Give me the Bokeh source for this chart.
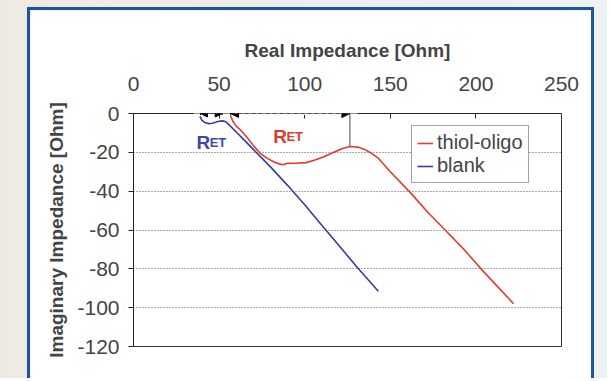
from bokeh.plotting import figure
from bokeh.models import Range1d, LinearAxis, FixedTicker, Arrow, NormalHead, Label
from bokeh.layouts import column
from bokeh.embed import file_html
from bokeh.resources import INLINE

# ---- data ----
x_ticks = [0, 50, 100, 150, 200, 250]
y_ticks = [-120, -100, -80, -60, -40, -20, 0]

blank_x = [38.8, 40, 42, 44, 46, 48, 50, 52, 54, 56, 60, 65, 70, 80, 90, 100, 110, 120, 130, 143]
blank_y = [-1.5, -3.5, -4.8, -5.2, -5.0, -4.5, -4.0, -3.8, -4.3, -6.0, -9.5, -14, -18.5, -27.5, -37, -47, -57.5, -68, -78.5, -91.5]

thiol_x = [56.7, 58, 60, 62.5, 66, 70, 74, 78, 82, 86, 88, 89.5, 95, 101, 106, 112, 117, 122, 126.5,
           131, 135, 139, 143, 150, 162, 172, 182.6, 193, 203, 212, 222]
thiol_y = [-1, -4, -6.5, -8.5, -12, -16.5, -20.5, -23, -25, -26.2, -26.3, -25.7, -25.6, -25.3, -24, -22, -20, -18, -17,
           -17.3, -18.5, -20.5, -23, -30, -41, -51, -60.5, -70, -80, -88.5, -98]

ret_blank = [39.1, 51.8]      # R_ET interval of blank
ret_thiol = [56.7, 126.4]     # R_ET interval of thiol-oligo
thiol_peak = -17.0

RED = "#e43b31"
BLUE = "#3b3b9f"
FONT = "Liberation Sans"

p = figure(width=567, height=371, output_backend="svg", toolbar_location=None,
           x_range=Range1d(0, 250), y_range=Range1d(-120, 0),
           x_axis_location="above",
           min_border_left=103, min_border_right=36, min_border_top=103, min_border_bottom=35)
p.outline_line_color = None
p.xgrid.visible = False
p.ygrid.ticker = FixedTicker(ticks=y_ticks)
p.ygrid.grid_line_color = "#555555"
p.ygrid.grid_line_dash = "1 2"
p.ygrid.grid_line_width = 1

xa = p.xaxis[0]
xa.ticker = FixedTicker(ticks=x_ticks)
xa.axis_label = "Real Impedance [Ohm]"
xa.axis_label_text_font = FONT
xa.axis_label_text_font_style = "bold"
xa.axis_label_text_font_size = "19px"
xa.axis_label_standoff = 13
xa.major_label_text_font = FONT
xa.major_label_text_font_size = "21px"
xa.major_label_standoff = 23
xa.major_tick_in = 5
xa.major_tick_out = 0
xa.minor_tick_line_color = None
xa.axis_line_color = "#222222"
xa.major_tick_line_color = "#222222"

ya = p.yaxis[0]
ya.ticker = FixedTicker(ticks=y_ticks)
ya.major_label_overrides = {t: str(t) for t in y_ticks}
ya.axis_label = "Imaginary Impedance [Ohm]"
ya.axis_label_text_font = FONT
ya.axis_label_text_font_style = "bold"
ya.axis_label_text_font_size = "19px"
ya.axis_label_standoff = 7
ya.major_label_text_font = FONT
ya.major_label_text_font_size = "21px"
ya.major_label_standoff = 9
ya.major_tick_in = 0
ya.major_tick_out = 5
ya.minor_tick_line_color = None
ya.axis_line_color = "#222222"
ya.major_tick_line_color = "#222222"

for loc in ("right", "below"):
    ax = LinearAxis(ticker=FixedTicker(ticks=[]), major_label_text_font_size="0px",
                    axis_line_color="#333333", major_tick_line_color=None, minor_tick_line_color=None)
    p.add_layout(ax, loc)

p.line(thiol_x, thiol_y, line_color=RED, line_width=1.6, legend_label="thiol-oligo")
p.line(blank_x, blank_y, line_color=BLUE, line_width=1.6, legend_label="blank")

lg = p.legend[0]
lg.location = (278, 163)
lg.label_text_font = FONT
lg.label_text_font_size = "20px"
lg.glyph_width = 16
lg.glyph_height = 18
lg.label_height = 20
lg.label_standoff = 4
lg.padding = 5
lg.spacing = 0
lg.margin = 0
lg.border_line_color = "#444444"
lg.border_line_width = 1
lg.background_fill_alpha = 1

# hide axis line behind the R_ET arrows
p.add_layout(Arrow(x_start=ret_blank[0] - 4, y_start=0, x_end=ret_thiol[1] + 4.5, y_end=0, end=None,
                   line_color="white", line_width=3))
# end bars
for xb in (ret_blank[0], ret_blank[1], ret_thiol[0]):
    p.add_layout(Arrow(x_start=xb, y_start=3.1, x_end=xb, y_end=-0.8, end=None,
                       line_color="black", line_width=1))
p.add_layout(Arrow(x_start=ret_thiol[1], y_start=2.5, x_end=ret_thiol[1], y_end=thiol_peak,
                   end=None, line_color="#666666", line_width=1.2))
# arrows
p.add_layout(Arrow(x_start=ret_blank[0], y_start=0, x_end=ret_blank[1], y_end=0,
                   start=NormalHead(size=7, fill_color="black", line_color="black"),
                   end=NormalHead(size=7, fill_color="black", line_color="black"),
                   line_color="black", line_width=1))
p.add_layout(Arrow(x_start=ret_thiol[0], y_start=0, x_end=ret_thiol[1], y_end=0,
                   start=NormalHead(size=8, fill_color="black", line_color="black"),
                   end=NormalHead(size=8, fill_color="black", line_color="black"),
                   line_color="black", line_width=1.2, line_dash="4 3"))

# R_ET labels
p.add_layout(Label(x=36.8, y=-15.0, text="R", text_font=FONT, text_font_style="bold",
                   text_font_size="19px", text_color="#4545a8", text_baseline="alphabetic"))
p.add_layout(Label(x=44.5, y=-15.0, text="ET", text_font=FONT, text_font_style="bold",
                   text_font_size="13px", text_color="#4545a8", text_baseline="alphabetic"))
p.add_layout(Label(x=81.6, y=-12.0, text="R", text_font=FONT, text_font_style="bold",
                   text_font_size="19px", text_color="#e0392f", text_baseline="alphabetic"))
p.add_layout(Label(x=89.3, y=-12.0, text="ET", text_font=FONT, text_font_style="bold",
                   text_font_size="13px", text_color="#e0392f", text_baseline="alphabetic"))

p.styles = {"border-top": "3px solid #1b55a0", "border-left": "3px solid #1b55a0",
            "border-right": "3px solid #1b55a0"}
p.margin = (7, 13, 0, 27)

layout = column(p, styles={"background": "linear-gradient(90deg, #efe9e3, #eef1f3)"})

open("out.html", "w").write(file_html(layout, INLINE))
